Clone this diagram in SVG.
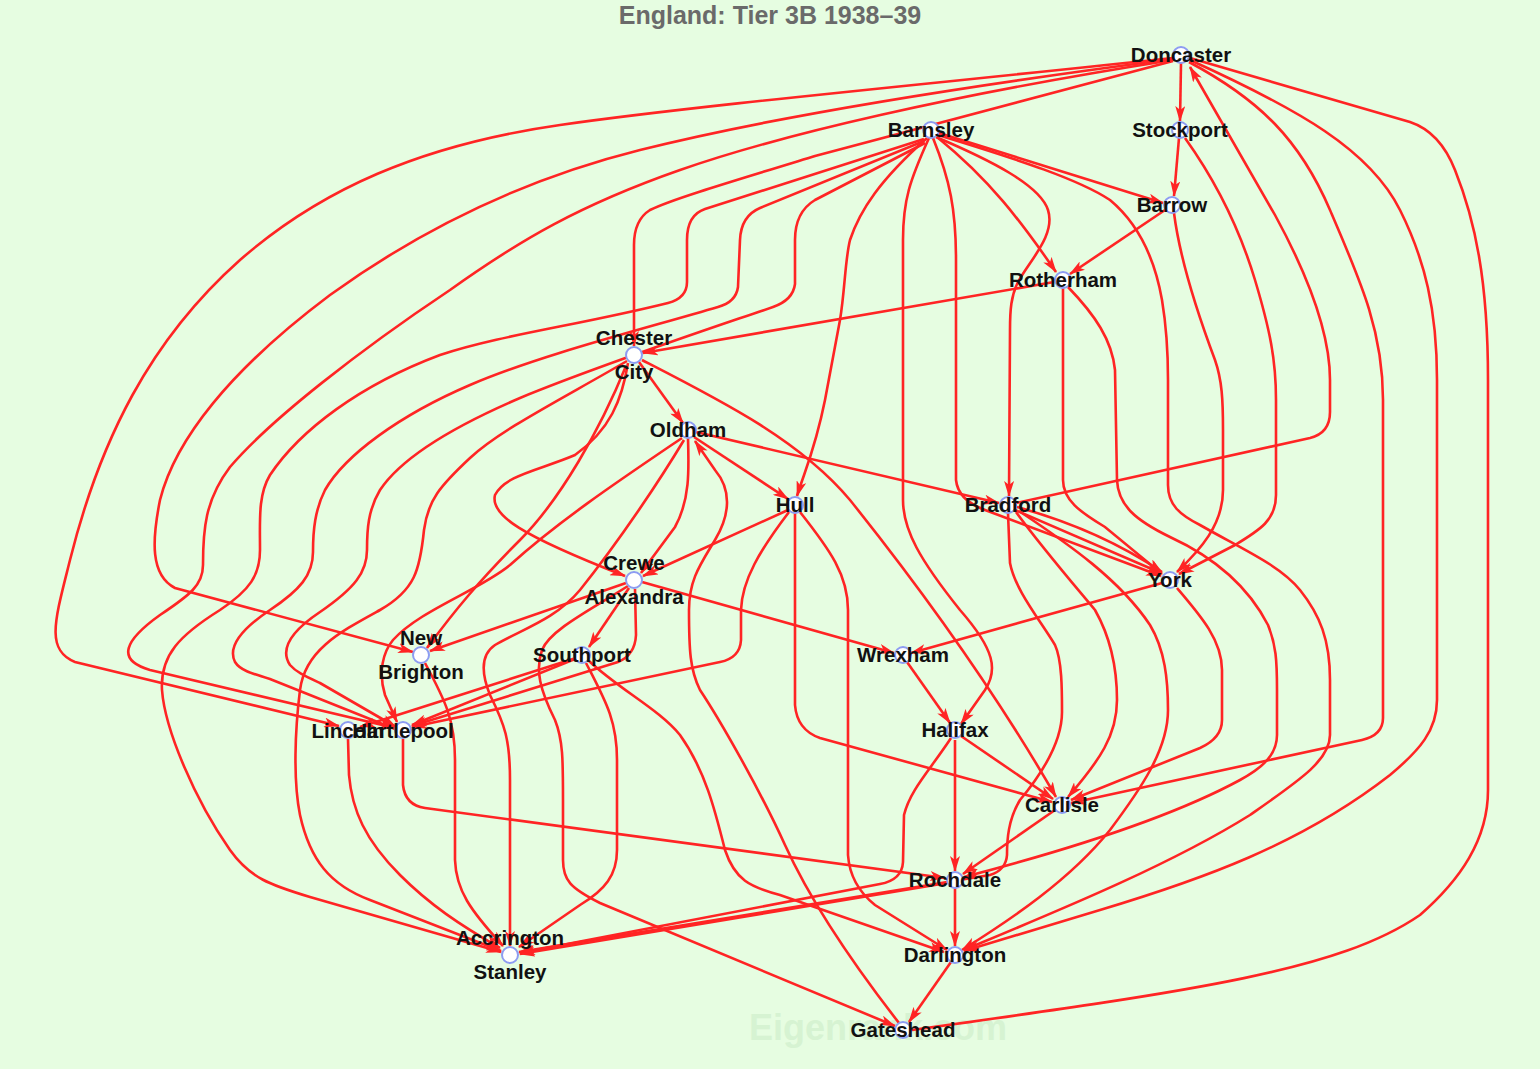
<svg xmlns="http://www.w3.org/2000/svg" width="1540" height="1069" viewBox="0 0 1540 1069">
<defs>
<marker id="a" viewBox="0 0 16 10" refX="15" refY="5" markerWidth="16" markerHeight="10" markerUnits="userSpaceOnUse" orient="auto"><path d="M0,0 L16,5 L0,10 L4,5 z" fill="#ff2424"/></marker>
<style>
.e{fill:none;stroke:#ff2424;stroke-width:2.6;marker-end:url(#a)}
.n{fill:none;stroke:#ff2424;stroke-width:2.6}
circle{fill:#fff;stroke:#8d9cf2;stroke-width:2}
text{font-family:"Liberation Sans",Arial,Helvetica,sans-serif;font-weight:bold;font-size:20.5px;text-anchor:middle;fill:#111}
.t{font-size:25px;fill:#6a6a6a}
.w{font-size:36px;fill:#d6f3d2}
</style>
</defs>
<rect width="1540" height="1069" fill="#e6fde1"/>
<text class="t" x="770" y="24">England: Tier 3B 1938–39</text>
<text class="w" x="878" y="1040">Eigenrank.com</text>
<g id="edges">
<path class="e" d="M1181,63 L1180,121"/>
<path class="e" d="M1173,58 C950,82 700,105 560,125 C420,145 320,190 240,260 C150,340 100,440 70,560 C55,620 45,650 75,662 L339,726"/>
<path class="e" d="M1173,59 C950,88 760,120 640,150 C520,180 420,230 330,295 C230,370 175,440 160,500 C152,540 150,575 175,588 L413,652"/>
<path class="e" d="M1173,60 C950,95 780,135 680,170 C580,205 520,240 450,290 C360,350 270,420 230,467 C205,500 203,530 203,565 C203,585 190,595 160,615 C125,640 115,660 150,670 L395,728"/>
<path class="e" d="M1173,61 L815,156 C720,185 670,200 650,210 Q634,220 634,245 L634,346"/>
<path class="e" d="M1016,503 L1310,438 Q1330,433 1330,412 L1330,380 C1330,330 1305,270 1275,215 L1190,67"/>
<path class="e" d="M1189,62 C1260,100 1300,140 1330,210 C1360,280 1383,330 1383,400 L1383,718 Q1383,735 1362,740 L1071,803"/>
<path class="e" d="M1190,60 C1300,110 1370,150 1400,210 C1425,260 1437,310 1437,380 L1437,700 C1437,730 1420,750 1390,775 C1300,845 1200,880 1100,910 L964,951"/>
<path class="n" d="M1190,58 L1410,122 Q1440,132 1455,170 C1475,220 1488,280 1488,380 L1488,790 C1488,840 1460,880 1420,915 C1340,970 1200,990 912,1030"/>
<path class="e" d="M1179,138 L1174,196"/>
<path class="e" d="M1185,138 C1215,180 1240,230 1255,280 C1270,330 1276,360 1276,400 L1276,495 C1276,520 1260,530 1235,545 L1179,574"/>
<path class="e" d="M1165,210 L1070,274"/>
<path class="e" d="M1174,213 C1180,260 1200,320 1215,360 C1222,380 1223,400 1223,430 L1223,490 C1223,525 1200,550 1177,572"/>
<path class="e" d="M939,133 L1163,203"/>
<path class="e" d="M937,137 C990,180 1020,220 1056,272"/>
<path class="e" d="M936,137 C990,160 1040,185 1048,210 C1056,235 1030,260 1018,282 C1011,296 1010,310 1010,330 L1009,496"/>
<path class="e" d="M933,138 C950,180 956,210 956,260 L956,480 Q958,500 985,510 L1161,576"/>
<path class="e" d="M929,138 C910,180 903,200 903,240 L903,500 C903,530 920,560 960,610 C995,650 998,670 985,690 L961,724"/>
<path class="e" d="M927,138 C880,180 860,210 850,240 C845,260 845,290 840,320 L825,400 C815,450 805,470 797,496"/>
<path class="e" d="M924,139 L705,209 Q687,215 687,240 L687,282 Q687,298 668,303 C580,325 500,335 440,355 C360,385 300,430 270,475 C258,495 260,520 260,550 C260,575 250,590 220,610 C180,635 160,655 162,690 C165,730 195,800 230,850 C250,878 270,885 310,897 L501,952"/>
<path class="e" d="M924,141 L760,208 Q741,216 740,240 L738,287 Q736,302 718,307 C640,330 540,355 470,385 C400,415 345,455 325,490 C315,510 313,530 313,552 C313,575 300,590 270,610 C240,630 228,648 235,662 C240,670 250,673 270,679 L395,729"/>
<path class="e" d="M925,143 L815,200 Q795,212 795,240 L795,284 Q793,300 773,307 C700,332 600,365 520,398 C450,428 400,460 380,490 C368,510 367,530 367,550 C367,572 355,588 320,612 C290,632 280,650 290,665 C296,672 305,676 320,683 L396,727"/>
<path class="e" d="M1054,282 L643,353"/>
<path class="e" d="M1063,288 L1063,480 C1063,500 1080,512 1105,527 L1162,574"/>
<path class="e" d="M1068,287 C1095,315 1112,340 1115,370 L1117,480 C1118,505 1135,520 1170,537 C1220,560 1250,590 1268,625 C1276,645 1277,660 1277,690 L1277,735 C1277,755 1262,768 1240,780 C1170,818 1060,852 964,877"/>
<path class="e" d="M639,362 L683,423"/>
<path class="e" d="M642,360 C720,400 800,440 850,500 C930,600 1000,700 1056,797"/>
<path class="e" d="M628,363 C622,400 610,430 575,455 C540,470 505,475 495,495 C490,515 520,535 625,576"/>
<path class="e" d="M626,366 C600,430 560,500 520,540 C480,580 455,610 427,648"/>
<path class="e" d="M627,361 C560,400 500,430 470,458 C440,486 428,500 424,530 C420,570 415,590 380,610 C340,632 305,650 300,690 C295,730 293,780 300,815 C310,860 330,885 370,900 L501,951"/>
<path class="e" d="M694,437 L788,499"/>
<path class="e" d="M696,432 L999,503"/>
<path class="e" d="M688,438 C689,470 690,500 675,527 L641,573"/>
<path class="e" d="M682,438 C620,480 560,520 510,565 C480,590 420,610 393,640 C383,652 378,672 385,695 L397,722"/>
<path class="e" d="M684,440 C660,480 620,540 580,590 C555,620 520,630 495,645 C480,655 482,675 490,695 C505,725 510,740 510,780 L510,946"/>
<path class="e" d="M899,1023 C850,960 810,900 785,845 C760,790 720,720 700,690 C690,670 689,650 689,610 C689,580 700,565 715,540 C730,515 732,490 715,470 L695,441"/>
<path class="e" d="M788,510 L643,576"/>
<path class="e" d="M789,512 C760,550 742,580 741,610 L741,640 Q740,658 720,662 L412,727"/>
<path class="e" d="M795,513 L795,705 Q797,730 820,738 L1052,802"/>
<path class="e" d="M800,512 C830,550 848,575 848,610 L848,855 Q850,885 875,905 L947,950"/>
<path class="e" d="M1015,510 L1161,573"/>
<path class="e" d="M1017,507 Q1100,530 1162,572"/>
<path class="e" d="M1016,512 C1040,545 1070,580 1095,610 C1112,640 1117,670 1117,700 C1117,735 1100,760 1068,797"/>
<path class="e" d="M1019,511 C1070,545 1120,580 1150,625 C1165,650 1168,680 1168,710 C1168,750 1140,790 1110,830 C1070,880 1010,920 962,950"/>
<path class="e" d="M1008,513 L1010,563 C1015,590 1040,620 1055,645 C1062,660 1062,690 1062,712 C1062,740 1045,770 1020,800 C1008,820 1007,840 1007,855 Q1006,870 990,875 L519,952"/>
<path class="e" d="M1177,588 C1200,615 1222,640 1222,670 L1222,720 Q1222,738 1200,748 L1071,800"/>
<path class="e" d="M1162,583 L911,653"/>
<path class="e" d="M938,135 C1020,160 1080,180 1110,200 C1140,225 1155,260 1162,300 C1167,330 1168,350 1168,380 L1168,485 C1168,505 1180,515 1200,525 C1240,548 1280,565 1300,590 C1320,615 1330,640 1330,680 L1330,735 C1330,760 1300,780 1250,815 C1170,865 1060,910 964,950"/>
<path class="e" d="M626,583 L430,651"/>
<path class="e" d="M629,588 L589,647"/>
<path class="e" d="M635,589 L636,635 Q635,655 618,662 L412,726"/>
<path class="e" d="M642,582 L894,653"/>
<path class="e" d="M628,586 C590,610 550,630 542,650 C535,670 540,690 555,720 C563,740 563,760 563,800 L563,860 C563,880 570,888 600,903 L895,1026"/>
<path class="e" d="M575,659 L412,725"/>
<path class="e" d="M576,658 L360,727"/>
<path class="e" d="M586,663 C605,700 617,720 617,760 L617,850 C617,875 605,890 580,905 L519,947"/>
<path class="e" d="M589,661 C620,690 660,710 680,735 C705,770 715,810 725,850 C735,880 750,887 780,895 L944,952"/>
<path class="e" d="M425,663 C445,700 455,720 455,760 L455,860 C456,890 470,910 503,946"/>
<path class="e" d="M348,739 L349,775 C352,810 365,840 400,875 C430,905 460,925 500,948"/>
<path class="e" d="M403,739 L403,785 Q405,805 425,808 L945,878"/>
<path class="e" d="M907,662 L950,723"/>
<path class="e" d="M961,736 L1053,799"/>
<path class="e" d="M955,740 L955,871"/>
<path class="e" d="M951,738 C930,770 910,790 904,815 L903,862 Q902,880 880,884 L520,953"/>
<path class="e" d="M947,883 L520,954"/>
<path class="e" d="M1055,810 L963,874"/>
<path class="e" d="M955,888 L955,946"/>
<path class="e" d="M951,962 L909,1022"/>
</g>
<g id="doncaster"><circle cx="1181" cy="55" r="8"/><text x="1181" y="62">Doncaster</text></g>
<g id="stockport"><circle cx="1180" cy="130" r="8"/><text x="1180" y="137">Stockport</text></g>
<g id="barnsley"><circle cx="931" cy="130" r="8"/><text x="931" y="137">Barnsley</text></g>
<g id="barrow"><circle cx="1172" cy="205" r="8"/><text x="1172" y="212">Barrow</text></g>
<g id="rotherham"><circle cx="1063" cy="280" r="8"/><text x="1063" y="287">Rotherham</text></g>
<g id="chester-city"><circle cx="634" cy="355" r="8"/><text x="634" y="345">Chester</text><text x="634" y="379">City</text></g>
<g id="oldham"><circle cx="688" cy="430" r="8"/><text x="688" y="437">Oldham</text></g>
<g id="hull"><circle cx="795" cy="505" r="8"/><text x="795" y="512">Hull</text></g>
<g id="bradford"><circle cx="1008" cy="505" r="8"/><text x="1008" y="512">Bradford</text></g>
<g id="york"><circle cx="1170" cy="580" r="8"/><text x="1170" y="587">York</text></g>
<g id="crewe-alexandra"><circle cx="634" cy="580" r="8"/><text x="634" y="570">Crewe</text><text x="634" y="604">Alexandra</text></g>
<g id="new-brighton"><circle cx="421" cy="655" r="8"/><text x="421" y="645">New</text><text x="421" y="679">Brighton</text></g>
<g id="southport"><circle cx="582" cy="655" r="8"/><text x="582" y="662">Southport</text></g>
<g id="wrexham"><circle cx="903" cy="655" r="8"/><text x="903" y="662">Wrexham</text></g>
<g id="lincoln"><circle cx="348" cy="730" r="8"/><text x="348" y="738">Lincoln</text></g>
<g id="hartlepool"><circle cx="403" cy="730" r="8"/><text x="403" y="738">Hartlepool</text></g>
<g id="halifax"><circle cx="955" cy="730" r="8"/><text x="955" y="737">Halifax</text></g>
<g id="carlisle"><circle cx="1062" cy="805" r="8"/><text x="1062" y="812">Carlisle</text></g>
<g id="rochdale"><circle cx="955" cy="880" r="8"/><text x="955" y="887">Rochdale</text></g>
<g id="accrington-stanley"><circle cx="510" cy="955" r="8"/><text x="510" y="945">Accrington</text><text x="510" y="979">Stanley</text></g>
<g id="darlington"><circle cx="955" cy="955" r="8"/><text x="955" y="962">Darlington</text></g>
<g id="gateshead"><circle cx="903" cy="1030" r="8"/><text x="903" y="1037">Gateshead</text></g>
</svg>
